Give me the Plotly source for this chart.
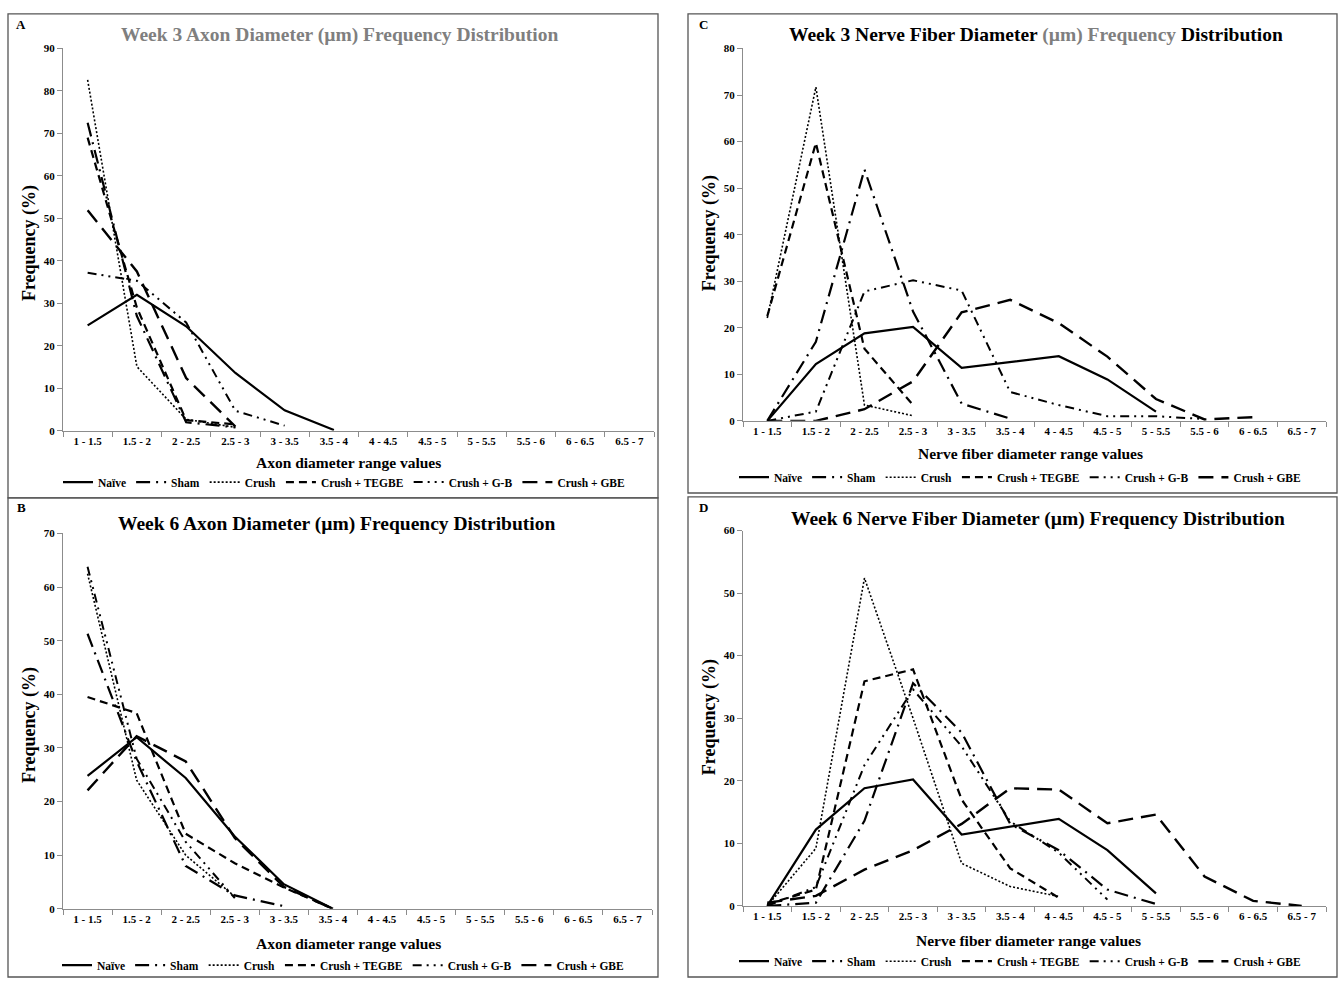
import plotly.graph_objects as go

categories = ["1 - 1.5", "1.5 - 2", "2 - 2.5", "2.5 - 3", "3 - 3.5", "3.5 - 4",
              "4 - 4.5", "4.5 - 5", "5 - 5.5", "5.5 - 6", "6 - 6.5", "6.5 - 7"]
series_names = ["Naïve", "Sham", "Crush", "Crush + TEGBE", "Crush + G-B", "Crush + GBE"]

# Panel A: Week 3 axon diameter
w3_axon_naive = [24.8, 32.0, 24.6, 13.6, 4.8, 0.2]
w3_axon_sham = [72.5, 27.0, 2.0, 0.8]
w3_axon_crush = [82.6, 15.1, 2.7, 0.8]
w3_axon_tegbe = [69.0, 29.0, 2.5, 1.5]
w3_axon_gb = [37.2, 35.3, 25.5, 4.7, 1.2]
w3_axon_gbe = [51.9, 37.5, 12.4, 1.0]

# Panel B: Week 6 axon diameter
w6_axon_naive = [24.8, 32.0, 24.4, 13.5, 4.6, 0.0]
w6_axon_sham = [51.3, 27.5, 8.0, 2.5, 0.5]
w6_axon_crush = [62.5, 24.0, 10.0, 2.3]
w6_axon_tegbe = [39.5, 36.5, 14.0, 8.5, 4.0, 0.0]
w6_axon_gb = [63.8, 28.0, 12.5, 2.0]
w6_axon_gbe = [22.1, 32.2, 27.5, 13.2, 4.1, 0.0]

# Panel C: Week 3 nerve fiber diameter
w3_nerve_naive = [0.0, 12.2, 18.8, 20.2, 11.4, 12.7, 13.9, 8.9, 2.0]
w3_nerve_sham = [0.0, 17.0, 54.0, 23.5, 3.7, 0.5]
w3_nerve_crush = [22.1, 71.7, 3.4, 1.1]
w3_nerve_tegbe = [22.5, 59.7, 15.5, 3.4]
w3_nerve_gb = [0.0, 2.0, 27.8, 30.2, 28.0, 6.2, 3.4, 1.0, 1.0, 0.4]
w3_nerve_gbe = [0.0, 0.0, 2.5, 8.5, 23.3, 26.0, 21.0, 13.8, 4.7, 0.3, 0.8]

# Panel D: Week 6 nerve fiber diameter
w6_nerve_naive = [0.0, 12.2, 18.8, 20.2, 11.4, 12.7, 13.9, 8.9, 2.0]
w6_nerve_sham = [0.0, 0.5, 13.6, 35.6, 27.7, 13.1, 8.9, 2.6, 0.3]
w6_nerve_crush = [0.0, 9.2, 52.4, 30.0, 6.8, 3.1, 1.5]
w6_nerve_tegbe = [0.3, 2.6, 35.9, 37.8, 17.0, 6.0, 1.3]
w6_nerve_gb = [0.0, 3.0, 22.5, 34.6, 25.5, 13.5, 8.5, 1.0]
w6_nerve_gbe = [0.5, 1.6, 5.8, 8.9, 13.1, 18.8, 18.6, 13.2, 14.6, 4.7, 0.8, 0.0]

panel_A = [w3_axon_naive, w3_axon_sham, w3_axon_crush, w3_axon_tegbe, w3_axon_gb, w3_axon_gbe]
panel_B = [w6_axon_naive, w6_axon_sham, w6_axon_crush, w6_axon_tegbe, w6_axon_gb, w6_axon_gbe]
panel_C = [w3_nerve_naive, w3_nerve_sham, w3_nerve_crush, w3_nerve_tegbe, w3_nerve_gb, w3_nerve_gbe]
panel_D = [w6_nerve_naive, w6_nerve_sham, w6_nerve_crush, w6_nerve_tegbe, w6_nerve_gb, w6_nerve_gbe]

styles = [
    dict(width=2.2, dash="solid"),
    dict(width=2.2, dash="14px,6px,2px,6px"),
    dict(width=1.6, dash="2px,2px"),
    dict(width=2.2, dash="8px,5px"),
    dict(width=2.0, dash="9px,5px,2px,5px,2px,5px"),
    dict(width=2.4, dash="15px,8px"),
]

W, H = 1339, 983
FONT = "Liberation Serif"

def fx(px):
    return px / W

def fy(py):
    return 1 - py / H

# panel geometry (pixels): x-left, x-right, y-top, y-bottom of plotting area
panels = [
    dict(key="", data=panel_A, x0=63, x1=654, yt=43, yb=430, ymax=90, dtick=10,
         legend="legend", legy=482),
    dict(key="2", data=panel_B, x0=63, x1=652, yt=534, yb=914, ymax=70, dtick=10,
         legend="legend2", legy=971),
    dict(key="3", data=panel_C, x0=743, x1=1326, yt=43, yb=420, ymax=80, dtick=10,
         legend="legend3", legy=477),
    dict(key="4", data=panel_D, x0=743, x1=1326, yt=531, yb=911, ymax=60, dtick=10,
         legend="legend4", legy=967),
]

fig = go.Figure()
layout = dict(
    width=W, height=H, margin=dict(l=0, r=0, t=0, b=0),
    paper_bgcolor="white", plot_bgcolor="white", showlegend=True,
    font=dict(family=FONT, color="black"),
)

for p in panels:
    k = p["key"]
    for name, vals, st in zip(series_names, p["data"], styles):
        y = list(vals) + [None] * (len(categories) - len(vals))
        fig.add_trace(go.Scatter(
            x=categories, y=y, mode="lines", name=name,
            line=dict(color="black", width=st["width"], dash=st["dash"]),
            xaxis="x" + k, yaxis="y" + k, legend=p["legend"],
            connectgaps=False, hoverinfo="skip"))
    layout["xaxis" + k] = dict(
        domain=[fx(p["x0"]), fx(p["x1"])], anchor="y" + k,
        type="category", categoryorder="array", categoryarray=categories,
        range=[-0.5, 11.5], tickson="boundaries", ticks="outside", ticklen=5,
        tickcolor="#8c8c8c", showline=True, linecolor="#8c8c8c", linewidth=1,
        showgrid=False, zeroline=False, fixedrange=True,
        tickfont=dict(family=FONT, size=11, color="black", weight="bold"),
        tickangle=0)
    layout["yaxis" + k] = dict(
        domain=[fy(p["yb"]), fy(p["yt"])], anchor="x" + k,
        range=[0, p["ymax"]], dtick=p["dtick"], ticks="outside", ticklen=5,
        tickcolor="#8c8c8c", showline=True, linecolor="#8c8c8c", linewidth=1,
        showgrid=False, zeroline=False, fixedrange=True,
        tickfont=dict(family=FONT, size=11, color="black", weight="bold"))
    layout[p["legend"]] = dict(
        orientation="h", x=fx((p["x0"] + p["x1"]) / 2 - 14), xanchor="center",
        y=fy(p["legy"]), yanchor="middle", bgcolor="rgba(0,0,0,0)",
        font=dict(family=FONT, size=11.5, color="black", weight="bold"),
        itemwidth=30, tracegroupgap=0)

fig.update_layout(**layout)

gray = "#7f7f7f"
annotations = [
    # titles
    dict(x=fx(340), y=fy(29), text="Week 3 Axon Diameter (µm) Frequency Distribution",
         font=dict(size=19.5, color=gray, weight="bold")),
    dict(x=fx(336), y=fy(524), text="Week 6 Axon Diameter (µm) Frequency Distribution",
         font=dict(size=19.5, color="black", weight="bold")),
    dict(x=fx(1036), y=fy(29),
         text="Week 3 Nerve Fiber Diameter <span style='color:%s'>(µm) Frequency</span> Distribution" % gray,
         font=dict(size=19.5, color="black", weight="bold")),
    dict(x=fx(1038), y=fy(519), text="Week 6 Nerve Fiber Diameter (µm) Frequency Distribution",
         font=dict(size=19.5, color="black", weight="bold")),
    # x-axis titles
    dict(x=fx(348), y=fy(462), text="Axon diameter range values", font=dict(size=15.5, weight="bold")),
    dict(x=fx(348), y=fy(949), text="Axon diameter range values", font=dict(size=15.5, weight="bold")),
    dict(x=fx(1030), y=fy(453), text="Nerve fiber diameter range values", font=dict(size=15.5, weight="bold")),
    dict(x=fx(1028), y=fy(946), text="Nerve fiber diameter range values", font=dict(size=15.5, weight="bold")),
    # y-axis titles
    dict(x=fx(29), y=fy(240), text="Frequency (%)", textangle=-90, font=dict(size=18, weight="bold")),
    dict(x=fx(29), y=fy(728), text="Frequency (%)", textangle=-90, font=dict(size=18, weight="bold")),
    dict(x=fx(709), y=fy(230), text="Frequency (%)", textangle=-90, font=dict(size=18, weight="bold")),
    dict(x=fx(709), y=fy(720), text="Frequency (%)", textangle=-90, font=dict(size=18, weight="bold")),
    # panel letters
    dict(x=fx(21), y=fy(19), text="A", font=dict(size=13, weight="bold")),
    dict(x=fx(21), y=fy(508), text="B", font=dict(size=13, weight="bold")),
    dict(x=fx(703), y=fy(19), text="C", font=dict(size=13, weight="bold")),
    dict(x=fx(703), y=fy(508), text="D", font=dict(size=13, weight="bold")),
]
for a in annotations:
    a.update(xref="paper", yref="paper", showarrow=False, xanchor="center", yanchor="middle")
    a["font"].setdefault("family", FONT)
    a["font"].setdefault("color", "black")
fig.update_layout(annotations=annotations)

frames = [
    (8, 8, 658, 498),
    (8, 498, 658, 983),
    (688, 8, 1337, 493),
    (688, 497, 1337, 983),
]
shapes = []
for (x0, y0, x1, y1) in frames:
    shapes.append(dict(type="rect", xref="paper", yref="paper",
                       x0=fx(x0), x1=fx(x1), y0=fy(y1), y1=fy(y0),
                       line=dict(color="#555555", width=1.3), fillcolor="rgba(0,0,0,0)"))
fig.update_layout(shapes=shapes)

fig.write_html("out.html")
